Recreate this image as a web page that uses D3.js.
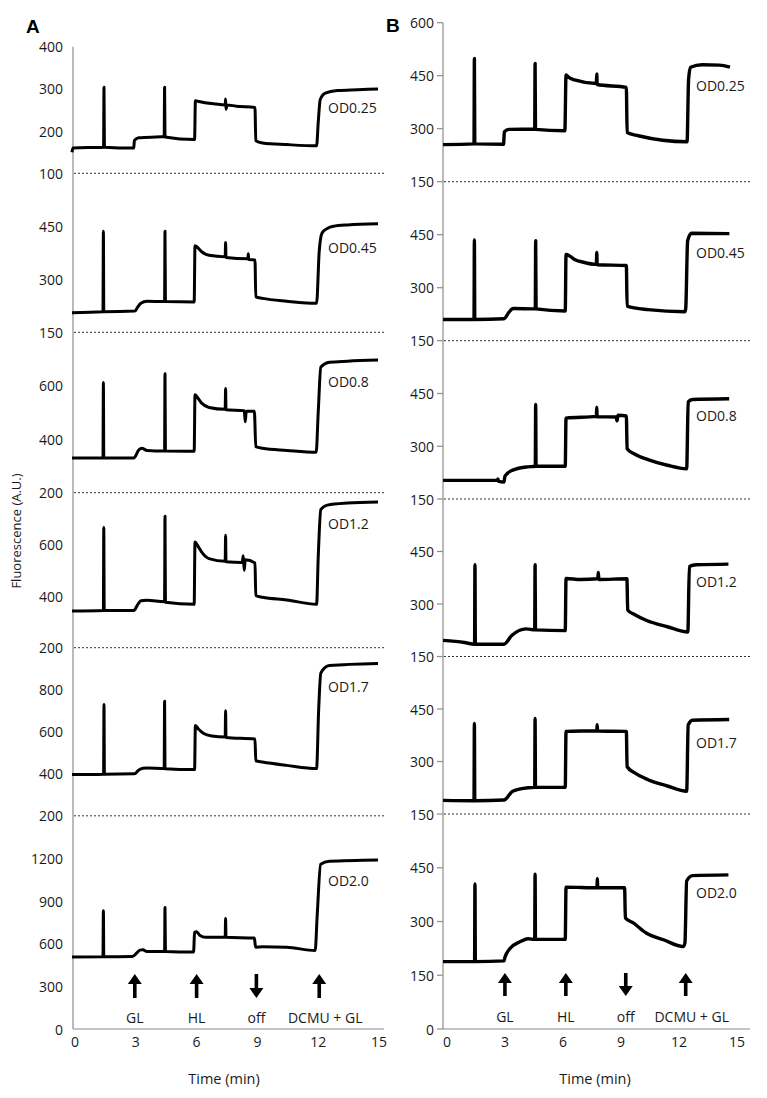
<!DOCTYPE html>
<html><head><meta charset="utf-8">
<script src="https://cdn.jsdelivr.net/npm/d3@7"></script>
<style>body{margin:0;background:#fff} svg text{font-family:"Open Sans",sans-serif;fill:#1a1a1a}</style>
</head><body><svg id="c" width="767" height="1098"></svg>
<script>
// ---------- DATA ----------
const timeTicks = [0, 3, 6, 9, 12, 15];
const odLabels = ["OD0.25", "OD0.45", "OD0.8", "OD1.2", "OD1.7", "OD2.0"];
const eventLabels = ["GL", "HL", "off", "DCMU + GL"];
const eventDirs = ["up", "up", "down", "up"];
const eventTimesA = [3.0, 6.05, 9.0, 12.1];
const eventTimesB = [3.1, 6.25, 9.35, 12.45];

const domainsA = [[100, 400], [150, 600], [200, 800], [200, 800], [200, 1000], [0, 1500]];
const ticksA = [[100, 200, 300, 400], [150, 300, 450], [200, 400, 600], [200, 400, 600], [200, 400, 600, 800], [0, 300, 600, 900, 1200]];
const domainsB = [[150, 600], [150, 600], [150, 600], [150, 600], [150, 600], [0, 600]];
const ticksB = [[150, 300, 450, 600], [150, 300, 450], [150, 300, 450], [150, 300, 450], [150, 300, 450], [0, 150, 300, 450]];

// traces: [time (min), fluorescence (A.U.)]
const A_OD025 = [[-0.1,150],[-0.05,160],[1.46,162],[1.48,304],[1.5,162],[2.95,160],[2.98,178],[3.2,184],[4.45,187],[4.47,304],[4.49,186],[5.95,180],[5.99,272],[6.15,270],[7.0,264],[7.46,262],[7.48,276],[7.5,252],[7.55,262],[8.0,259],[8.93,256],[8.97,177],[9.3,172],[10.5,168],[11.97,165],[12.05,220],[12.15,275],[12.4,290],[13,296],[14,298],[15,300]];
const A_OD045 = [[-0.1,205],[1.43,208],[1.45,436],[1.47,208],[3.0,210],[3.15,222],[3.3,232],[3.6,238],[4.47,237],[4.49,436],[4.51,237],[5.93,236],[5.97,395],[6.1,390],[6.3,378],[6.66,368],[7.46,364],[7.48,404],[7.5,362],[8.58,358],[8.6,372],[8.62,356],[8.93,355],[8.97,250],[9.3,246],[10.5,238],[11.97,232],[12.1,380],[12.24,431],[12.5,444],[12.8,450],[13.5,454],[15,457]];
const A_OD08 = [[-0.1,330],[1.43,330],[1.45,612],[1.47,330],[2.95,330],[3.2,360],[3.35,366],[3.6,358],[4.47,356],[4.49,645],[4.51,356],[5.93,355],[5.97,566],[6.1,555],[6.3,535],[6.66,519],[7.46,512],[7.48,590],[7.5,510],[8.4,507],[8.45,465],[8.5,505],[8.9,505],[8.97,372],[9.3,366],[10.5,358],[11.95,351],[12.05,500],[12.18,670],[12.6,688],[13.5,692],[15,696]];
const A_OD12 = [[-0.1,342],[1.45,344],[1.47,665],[1.49,344],[2.95,344],[3.15,368],[3.3,382],[3.6,384],[4.47,378],[4.49,709],[4.51,376],[5.93,368],[5.97,609],[6.1,595],[6.3,570],[6.66,545],[7.46,535],[7.48,635],[7.5,533],[8.3,530],[8.35,556],[8.4,500],[8.45,540],[8.93,528],[8.97,402],[9.3,395],[10.5,385],[11.97,368],[12.05,550],[12.18,735],[12.5,752],[13.5,760],[15,764]];
const A_OD17 = [[-0.1,396],[1.46,398],[1.48,730],[1.5,398],[2.98,400],[3.2,418],[3.4,426],[3.6,428],[4.45,425],[4.47,745],[4.49,424],[5.95,420],[5.99,630],[6.15,612],[6.4,592],[6.8,580],[7.46,575],[7.48,700],[7.5,573],[8.93,565],[8.97,462],[9.3,456],[10.5,440],[11.97,425],[12.07,700],[12.18,880],[12.6,915],[15,925]];
const A_OD20 = [[-0.1,506],[1.43,508],[1.45,832],[1.47,508],[2.88,510],[3.1,535],[3.25,555],[3.4,557],[3.6,545],[4.47,545],[4.49,855],[4.51,545],[5.9,541],[5.95,680],[6.05,685],[6.2,660],[6.5,645],[7.46,645],[7.48,778],[7.5,645],[8.9,640],[8.96,576],[9.3,578],[10.5,575],[11.9,552],[12.0,800],[12.17,1159],[12.6,1180],[15,1189]];

const B_OD025 = [[-0.1,255],[1.5,257],[1.52,499],[1.54,257],[3.03,256],[3.07,291],[3.3,298],[4.64,299],[4.66,485],[4.68,298],[6.2,294],[6.26,452],[6.4,445],[6.7,438],[7.83,428],[7.85,455],[7.87,425],[9.38,417],[9.42,289],[10,280],[12.52,263],[12.6,440],[12.7,474],[13.3,481],[14.2,480],[14.74,474]];
const B_OD045 = [[-0.1,210],[1.5,210],[1.52,435],[1.54,210],[3.05,212],[3.3,230],[3.53,241],[4.67,240],[4.69,433],[4.71,240],[6.22,234],[6.26,394],[6.45,390],[6.7,380],[7.16,372],[7.83,366],[7.85,400],[7.87,365],[9.38,363],[9.42,248],[10.5,238],[12.4,232],[12.45,240],[12.55,433],[12.75,454],[14.71,453]];
const B_OD08 = [[-0.1,203],[2.72,203],[2.74,207],[2.76,201],[3.05,198],[3.1,215],[3.5,232],[4.2,241],[4.67,243],[4.69,419],[4.71,243],[6.22,243],[6.26,380],[7.83,385],[7.85,411],[7.87,384],[8.85,383],[8.9,372],[8.95,388],[9.38,386],[9.42,293],[9.8,278],[10.5,262],[11.5,246],[12.5,236],[12.58,426],[12.8,433],[14.7,435]];
const B_OD12 = [[-0.1,196],[1,190],[1.53,185],[1.55,412],[1.57,185],[3.05,185],[3.45,210],[4.2,229],[4.64,226],[4.66,412],[4.68,226],[6.22,224],[6.26,373],[7.0,370],[7.9,372],[7.93,390],[7.96,370],[9.41,372],[9.45,283],[9.8,270],[10.43,253],[11.5,235],[12.56,220],[12.64,407],[13,412],[14.66,414]];
const B_OD17 = [[-0.1,189],[1.5,188],[1.52,409],[1.54,188],[3.05,190],[3.5,215],[4.3,225],[4.64,226],[4.66,423],[4.68,226],[6.22,226],[6.26,386],[7.85,388],[7.87,405],[7.89,387],[9.38,386],[9.42,285],[9.8,268],[10.5,248],[11.5,230],[12.5,215],[12.58,405],[12.8,418],[14.7,420]];
const B_OD20 = [[-0.1,188],[1.53,188],[1.55,405],[1.57,188],[3.05,190],[3.1,200],[3.35,224],[3.9,244],[4.3,252],[4.64,250],[4.66,432],[4.68,250],[6.22,250],[6.26,396],[7.86,394],[7.88,420],[7.9,394],[9.29,394],[9.33,310],[9.74,296],[10.43,267],[11.3,249],[12.33,230],[12.41,240],[12.5,413],[12.8,428],[14.66,430]];

const tracesA = [A_OD025, A_OD045, A_OD08, A_OD12, A_OD17, A_OD20];
const tracesB = [B_OD025, B_OD045, B_OD08, B_OD12, B_OD17, B_OD20];

// ---------- LAYOUT ----------
const svg = d3.select("#c");
const axisColor = "#8c8c8c";

const panels = [
  { letter: "A", letterX: 26, letterY: 33, axisX: 73, xRange: [74, 378], xEnd: 384, labelX: 63, tickLen: 0,
    bands: [[46.7,173.3],[173.3,332.3],[332.3,492.7],[492.7,647.7],[647.7,815.8],[815.8,1029]],
    domains: domainsA, ticks: ticksA, traces: tracesA, events: eventTimesA, odX: 328, xLabOff: 1,
    odY: [107, 247, 381, 523, 686, 880], arrowTop: 974, arrowBot: 998, evLabelY: 1017, titleX: 224, sw: 3 },
  { letter: "B", letterX: 386, letterY: 32, axisX: 443, xRange: [445, 735], xEnd: 750, labelX: 434, tickLen: 6,
    bands: [[22.7,181.7],[181.7,340.7],[340.7,499],[499,656.5],[656.5,814],[814,1029]],
    domains: domainsB, ticks: ticksB, traces: tracesB, events: eventTimesB, odX: 696, xLabOff: 2,
    odY: [85, 252, 415, 581, 742, 892], arrowTop: 973, arrowBot: 996, evLabelY: 1016, titleX: 595, sw: 3.4 }
];

panels.forEach(p => {
  const g = svg.append("g");
  const x = d3.scaleLinear().domain([0, 15]).range(p.xRange);
  const top = p.bands[0][0], bottom = p.bands[5][1];

  g.append("line").attr("x1", p.axisX).attr("x2", p.axisX).attr("y1", top).attr("y2", bottom)
    .attr("stroke", axisColor).attr("stroke-width", 1.2);
  g.append("line").attr("x1", p.axisX).attr("x2", p.xEnd).attr("y1", bottom).attr("y2", bottom)
    .attr("stroke", axisColor).attr("stroke-width", 1.2);

  p.bands.forEach((b, i) => {
    const y = d3.scaleLinear().domain(p.domains[i]).range([b[1], b[0]]);
    if (i < 5) {
      g.append("line").attr("x1", p.axisX + 1).attr("x2", p.xEnd).attr("y1", b[1]).attr("y2", b[1])
        .attr("stroke", "#333").attr("stroke-width", 1).attr("stroke-dasharray", "2,2");
    }
    p.ticks[i].forEach(t => {
      const yy = y(t);
      if (p.tickLen) g.append("line").attr("x1", p.axisX - p.tickLen).attr("x2", p.axisX)
        .attr("y1", yy).attr("y2", yy).attr("stroke", axisColor).attr("stroke-width", 1.2);
      g.append("text").attr("x", p.labelX).attr("y", yy).attr("text-anchor", "end")
        .attr("dominant-baseline", "central").attr("font-size", 14).text(t);
    });
    const line = d3.line().x(d => x(d[0])).y(d => y(d[1])).curve(d3.curveMonotoneX);
    g.append("path").datum(p.traces[i]).attr("d", line).attr("fill", "none")
      .attr("stroke", "#000").attr("stroke-width", p.sw).attr("stroke-linejoin", "round");
    g.append("text").attr("x", p.odX).attr("y", p.odY[i]).attr("dominant-baseline", "central")
      .attr("font-size", 14).text(odLabels[i]);
  });

  timeTicks.forEach(t => {
    g.append("text").attr("x", x(t) + p.xLabOff).attr("y", 1041).attr("text-anchor", "middle")
      .attr("dominant-baseline", "central").attr("font-size", 14).text(t);
  });
  g.append("text").attr("x", p.titleX).attr("y", 1078).attr("text-anchor", "middle")
    .attr("dominant-baseline", "central").attr("font-size", 14.5).text("Time (min)");

  p.events.forEach((t, k) => {
    const ax = x(t);
    const up = eventDirs[k] === "up";
    const headH = 10, hw = 7, sh = 1.8;
    const t0 = p.arrowTop, t1 = p.arrowBot;
    let path;
    if (up) {
      path = `M${ax-hw},${t0+headH} L${ax},${t0} L${ax+hw},${t0+headH} L${ax+sh},${t0+headH} L${ax+sh},${t1} L${ax-sh},${t1} L${ax-sh},${t0+headH} Z`;
    } else {
      path = `M${ax-hw},${t1-headH} L${ax},${t1} L${ax+hw},${t1-headH} L${ax+sh},${t1-headH} L${ax+sh},${t0} L${ax-sh},${t0} L${ax-sh},${t1-headH} Z`;
    }
    g.append("path").attr("d", path).attr("fill", "#000");
    g.append("text").attr("x", ax + (k === 3 ? 6 : 0)).attr("y", p.evLabelY).attr("text-anchor", "middle")
      .attr("dominant-baseline", "central").attr("font-size", 14).text(eventLabels[k]);
  });

  svg.append("text").attr("x", p.letterX).attr("y", p.letterY).attr("font-size", 19)
    .attr("font-weight", "bold").style("font-family", "Arial, 'Liberation Sans', sans-serif")
    .style("fill", "#000").text(p.letter);
});

svg.append("text").attr("transform", "translate(16,531) rotate(-90)").attr("text-anchor", "middle")
  .attr("dominant-baseline", "central").attr("font-size", 13).text("Fluorescence (A.U.)");
</script></body></html>
